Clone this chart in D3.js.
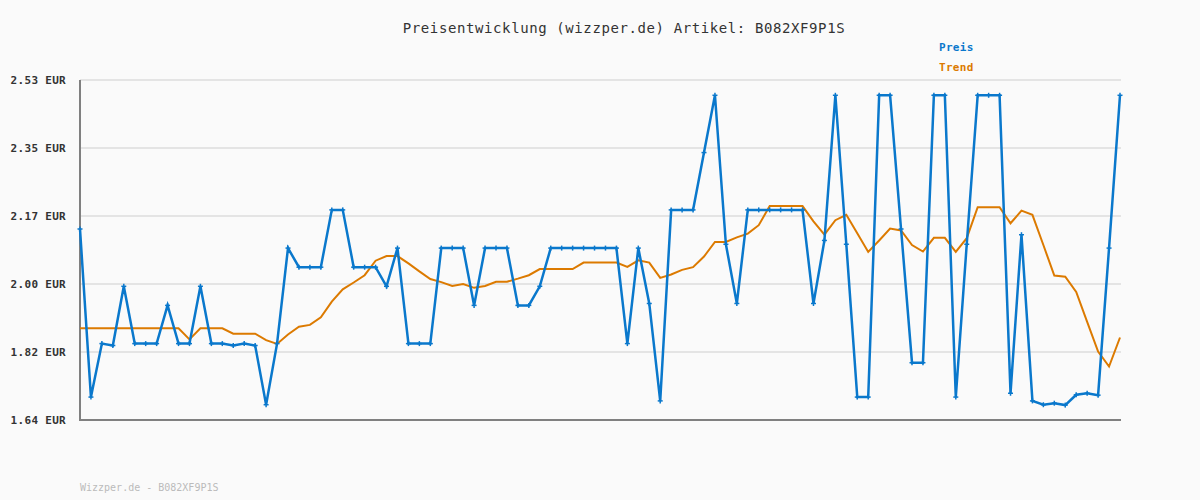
<!DOCTYPE html>
<html>
<head>
<meta charset="utf-8">
<script src="https://cdn.jsdelivr.net/npm/d3@7"></script>
<style>
  html, body { margin: 0; padding: 0; background: #fafafa; }
  svg { display: block; }
</style>
</head>
<body>
<svg id="chart" width="1200" height="500"></svg>
<script>
const titleText = "Preisentwicklung (wizzper.de) Artikel: B082XF9P1S";
const footerText = "Wizzper.de - B082XF9P1S";
const seriesNames = ["Preis", "Trend"];
const yTicks = [1.64, 1.818, 1.996, 2.174, 2.352, 2.53];
const yTickLabels = ["1.64 EUR", "1.82 EUR", "2.00 EUR", "2.17 EUR", "2.35 EUR", "2.53 EUR"];

const preis = [
  2.14, 1.70, 1.84, 1.835, 1.99, 1.84, 1.84, 1.84, 1.94, 1.84,
  1.84, 1.99, 1.84, 1.84, 1.835, 1.84, 1.835, 1.68, 1.84, 2.09,
  2.04, 2.04, 2.04, 2.19, 2.19, 2.04, 2.04, 2.04, 1.99, 2.09,
  1.84, 1.84, 1.84, 2.09, 2.09, 2.09, 1.94, 2.09, 2.09, 2.09,
  1.94, 1.94, 1.99, 2.09, 2.09, 2.09, 2.09, 2.09, 2.09, 2.09,
  1.84, 2.09, 1.945, 1.69, 2.19, 2.19, 2.19, 2.34, 2.49, 2.10,
  1.945, 2.19, 2.19, 2.19, 2.19, 2.19, 2.19, 1.945, 2.11, 2.49,
  2.10, 1.70, 1.70, 2.49, 2.49, 2.14, 1.79, 1.79, 2.49, 2.49,
  1.70, 2.10, 2.49, 2.49, 2.49, 1.71, 2.125, 1.69, 1.68, 1.684,
  1.679, 1.706, 1.71, 1.705, 2.09, 2.49
];
const trend = [
  1.88, 1.88, 1.88, 1.88, 1.88, 1.88, 1.88, 1.88, 1.88, 1.88,
  1.851, 1.88, 1.88, 1.88, 1.866, 1.866, 1.866, 1.849, 1.839, 1.864,
  1.884, 1.889, 1.909, 1.95, 1.982, 2.0, 2.019, 2.057, 2.069, 2.069,
  2.05, 2.029, 2.009, 2.001, 1.991, 1.996, 1.986, 1.991, 2.002, 2.002,
  2.01, 2.019, 2.035, 2.035, 2.035, 2.035, 2.052, 2.052, 2.052, 2.052,
  2.041, 2.058, 2.052, 2.012, 2.021, 2.033, 2.04, 2.068, 2.106, 2.106,
  2.118, 2.128, 2.15, 2.2, 2.2, 2.2, 2.2, 2.16, 2.125, 2.163,
  2.177, 2.129, 2.08, 2.11, 2.141, 2.136, 2.098, 2.081, 2.117, 2.117,
  2.08, 2.116, 2.197, 2.197, 2.197, 2.155, 2.188, 2.177, 2.098, 2.018,
  2.015, 1.975, 1.897, 1.819, 1.78, 1.856
];
const colors = { Preis: "#0a78cc", Trend: "#dc7a00" };

const svg = d3.select("#chart");
const mLeft = 80, mRight = 1120, mTop = 80, mBottom = 420;

const x = d3.scaleLinear().domain([0, preis.length - 1]).range([mLeft, mRight]);
const y = d3.scaleLinear().domain([1.64, 2.53]).range([mBottom, mTop]);

// Title
svg.append("text")
  .attr("x", 624).attr("y", 33)
  .attr("text-anchor", "middle")
  .attr("font-family", "DejaVu Sans Mono, monospace")
  .attr("font-size", 14)
  .attr("letter-spacing", 0.6)
  .attr("fill", "#333")
  .text(titleText);

// Grid lines
svg.append("g")
  .selectAll("line")
  .data(yTicks)
  .join("line")
  .attr("x1", mLeft).attr("x2", mRight + 1)
  .attr("y1", d => y(d)).attr("y2", d => y(d))
  .attr("stroke", "#e4e4e4")
  .attr("stroke-width", 2);

// Y axis
const yAxis = d3.axisLeft(y)
  .tickValues(yTicks)
  .tickSize(0)
  .tickPadding(14)
  .tickFormat((d, i) => yTickLabels[i]);
const gy = svg.append("g").attr("transform", `translate(${mLeft},0)`).call(yAxis);
gy.select(".domain").remove();
gy.selectAll("text")
  .attr("font-family", "DejaVu Sans Mono, monospace")
  .attr("font-size", 11)
  .attr("font-weight", "bold")
  .attr("letter-spacing", 0.3)
  .attr("fill", "#333");

// Axis lines
svg.append("line")
  .attr("x1", mLeft).attr("x2", mLeft)
  .attr("y1", mTop).attr("y2", mBottom + 1)
  .attr("stroke", "#808080").attr("stroke-width", 2);
svg.append("line")
  .attr("x1", mLeft - 1).attr("x2", mRight + 1)
  .attr("y1", mBottom).attr("y2", mBottom)
  .attr("stroke", "#808080").attr("stroke-width", 2);

// Trend line
const line = d3.line().x((d, i) => x(i)).y(d => y(d));
svg.append("path")
  .datum(trend)
  .attr("d", line)
  .attr("fill", "none")
  .attr("stroke", colors.Trend)
  .attr("stroke-width", 2);

// Price line
svg.append("path")
  .datum(preis)
  .attr("d", line)
  .attr("fill", "none")
  .attr("stroke", colors.Preis)
  .attr("stroke-width", 2.5);

// Price markers (small plus)
const mk = svg.append("g");
preis.forEach((d, i) => {
  mk.append("line")
    .attr("x1", x(i) - 2.5).attr("x2", x(i) + 2.5)
    .attr("y1", y(d)).attr("y2", y(d))
    .attr("stroke", colors.Preis).attr("stroke-width", 1.5);
  mk.append("line")
    .attr("x1", x(i)).attr("x2", x(i))
    .attr("y1", y(d) - 2.5).attr("y2", y(d) + 2.5)
    .attr("stroke", colors.Preis).attr("stroke-width", 1.5);
});

// Legend
const legend = svg.append("g");
seriesNames.forEach((name, i) => {
  legend.append("text")
    .attr("x", 939).attr("y", 51 + i * 20)
    .attr("font-family", "DejaVu Sans Mono, monospace")
    .attr("font-size", 11)
    .attr("font-weight", "bold")
    .attr("letter-spacing", 0.3)
    .attr("fill", colors[name])
    .text(name);
});

// Footer
svg.append("text")
  .attr("x", 80).attr("y", 491)
  .attr("font-family", "DejaVu Sans Mono, monospace")
  .attr("font-size", 10)
  .attr("fill", "#bbbbbb")
  .text(footerText);
</script>
</body>
</html>
